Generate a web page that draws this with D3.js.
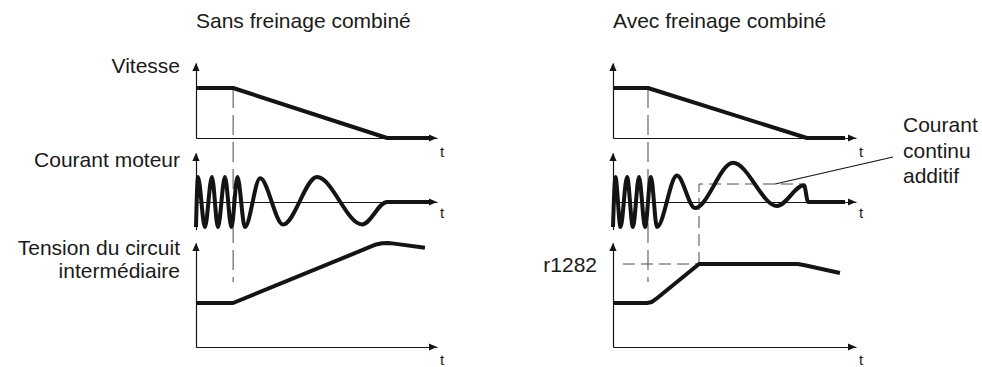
<!DOCTYPE html>
<html>
<head>
<meta charset="utf-8">
<script src="https://cdn.jsdelivr.net/npm/d3@7"></script>
<style>
  html, body { margin: 0; padding: 0; background: #fff; }
  svg { display: block; }
  text { font-family: "Liberation Sans", Arial, Helvetica, sans-serif; fill: #1a1a1a; }
</style>
</head>
<body>
<svg id="chart" width="982" height="367"></svg>
<script>
// ---- Texts -------------------------------------------------------------
const panelTitles = ["Sans freinage combiné", "Avec freinage combiné"];
const rowLabels = [["Vitesse"], ["Courant moteur"], ["Tension du circuit", "intermédiaire"]];
const timeLabel = "t";
const levelLabel = "r1282";
const dcLabel = ["Courant", "continu", "additif"];

// ---- Data (time in % of the time axis, values normalised) ---------------
// Speed: constant, ramp down to standstill
const speedLeft  = [[0, 1], [15.4, 1], [79.3, 0], [97, 0]];
const speedRight = [[0, 1], [14.4, 1], [79.8, 0], [95.5, 0]];

// Motor current: successive peaks / troughs of the phase current
const currentLeft = [
  [0, -1], [0.8, 1], [3.7, -1], [6.6, 1], [9.1, -1], [12.0, 1], [14.7, -1],
  [17.2, 1], [20.3, -1], [26.6, 0.95], [36.1, -0.9], [50.2, 1], [68.9, -0.9],
  [79.3, 0], [97, 0]
];
const currentRight = [
  [0, -1], [1.0, 1], [3.1, -1], [5.8, 1], [8.2, -1], [10.7, 1], [13.2, -1],
  [15.6, 1], [18.1, -1], [26.3, 1.06], [33.7, -0.24], [49.4, 1.57], [67.5, -0.16],
  [78.6, 0.67], [80.3, 0], [95.5, 0]
];

// DC link voltage
const voltageLeft = [
  [0, 0.423], [15.4, 0.423], [72.2, 0.962], [74.7, 0.986], [77.2, 0.998],
  [79.7, 1.0], [82.2, 0.994], [95.0, 0.955]
];
const voltageRight = [
  [0, 0.423], [14.0, 0.423], [16.0, 0.433], [17.7, 0.462], [35.4, 0.798],
  [76.1, 0.798], [79.4, 0.784], [93.4, 0.712]
];

// Events
const brakeStart = [15.4, 14.4];      // start of braking in each panel
const r1282Level = 0.798;             // voltage threshold r1282
const r1282From = 4.1;
const dcStart = 35.4, dcEnd = 78.2, dcLevel = 0.72;   // additive DC current
const dcLeaderAt = 66.7;

// ---- Layout ---------------------------------------------------------------
const svg = d3.select("#chart");
const ink = "#141414";
const dashInk = "#4a4a4a";

const panels = [
  { title: panelTitles[0], x0: 196, x1: 437, speed: speedLeft,  current: currentLeft,  voltage: voltageLeft,  brake: brakeStart[0] },
  { title: panelTitles[1], x0: 613, x1: 856, speed: speedRight, current: currentRight, voltage: voltageRight, brake: brakeStart[1] }
];

const speedY   = d3.scaleLinear().domain([0, 1]).range([138, 88]);
const currentY = d3.scaleLinear().domain([-1, 1]).range([227, 177]);
const voltY    = d3.scaleLinear().domain([0, 1]).range([347, 243]);

const rows = [
  { y: speedY,   zero: 0, top: 1.5,  bottom: 0,    tY: 157 },
  { y: currentY, zero: 0, top: 1.96, bottom: -1.1, tY: 218 },
  { y: voltY,    zero: 0, top: 1.0,  bottom: 0,    tY: 365 }
];

const arrow = (g, x, y, dir) => {
  const L = 8, W = 3.6;
  const pts = dir === "right"
    ? [[x, y], [x - L, y - W], [x - L, y + W]]
    : [[x, y], [x - W, y + L], [x + W, y + L]];
  g.append("path").attr("d", d3.line()(pts) + "Z").attr("fill", ink);
};

panels.forEach((p, pi) => {
  const x = d3.scaleLinear().domain([0, 100]).range([p.x0, p.x1]);
  const g = svg.append("g");

  // panel title
  g.append("text").attr("x", p.x0).attr("y", 28).attr("font-size", 21).text(p.title);

  // axes with arrowheads
  rows.forEach(r => {
    const y0 = r.y(r.zero);
    const hAxis = g.append("g").attr("transform", `translate(0,${y0})`)
      .call(d3.axisBottom(x).tickValues([]).tickSizeOuter(0));
    hAxis.select(".domain").attr("stroke", ink).attr("stroke-width", 1.2);
    arrow(g, x(100), y0, "right");

    const yAxisScale = d3.scaleLinear().domain([r.bottom, r.top]).range([r.y(r.bottom), r.y(r.top)]);
    const vAxis = g.append("g").attr("transform", `translate(${p.x0},0)`)
      .call(d3.axisLeft(yAxisScale).tickValues([]).tickSizeOuter(0));
    vAxis.select(".domain").attr("stroke", ink).attr("stroke-width", 1.2);
    arrow(g, p.x0, r.y(r.top), "up");

    g.append("text").attr("x", x(100) + 5).attr("y", r.tY)
      .attr("text-anchor", "middle").attr("font-size", 15).text(timeLabel);
  });

  // dashed guide at start of braking
  g.append("line")
    .attr("x1", x(p.brake)).attr("x2", x(p.brake))
    .attr("y1", speedY(1)).attr("y2", voltY(0.625))
    .attr("stroke", dashInk).attr("stroke-width", 1).attr("stroke-dasharray", "20,7");

  if (pi === 1) {
    const dash = sel => sel.attr("stroke", dashInk).attr("stroke-width", 1).attr("stroke-dasharray", "12,6").attr("fill", "none");
    // r1282 threshold
    g.append("line").call(dash)
      .attr("x1", x(r1282From)).attr("x2", x(dcStart))
      .attr("y1", voltY(r1282Level)).attr("y2", voltY(r1282Level));
    // additive DC current step
    g.append("path").call(dash)
      .attr("d", d3.line()([[x(dcStart), voltY(r1282Level)], [x(dcStart), currentY(dcLevel)], [x(dcEnd), currentY(dcLevel)]]));
    // leader to the annotation
    g.append("line")
      .attr("x1", x(dcLeaderAt)).attr("y1", currentY(dcLevel))
      .attr("x2", 893).attr("y2", 157)
      .attr("stroke", ink).attr("stroke-width", 1.2);
    g.append("text").attr("x", p.x0 - 16).attr("y", 272)
      .attr("text-anchor", "end").attr("font-size", 21).text(levelLabel);
    g.selectAll(".dcl").data(dcLabel).join("text")
      .attr("x", 903).attr("y", (d, i) => 132 + i * 25.5)
      .attr("font-size", 21).text(d => d);
  }

  // curves
  const thick = sel => sel.attr("fill", "none").attr("stroke", ink).attr("stroke-width", 4)
    .attr("stroke-linejoin", "round");
  g.append("path").datum(p.speed).call(thick)
    .attr("d", d3.line().x(d => x(d[0])).y(d => speedY(d[1])));
  g.append("path").datum(p.current).call(thick)
    .attr("d", d3.line().curve(d3.curveMonotoneX).x(d => x(d[0])).y(d => currentY(d[1])));
  g.append("path").datum(p.voltage).call(thick)
    .attr("d", d3.line().x(d => x(d[0])).y(d => voltY(d[1])));
});

// row labels on the left
const labelLines = [[73], [167], [255, 278]];
rowLabels.forEach((lines, i) => {
  lines.forEach((s, j) => {
    svg.append("text").attr("x", 180).attr("y", labelLines[i][j])
      .attr("text-anchor", "end").attr("font-size", 21).text(s);
  });
});
</script>
</body>
</html>
